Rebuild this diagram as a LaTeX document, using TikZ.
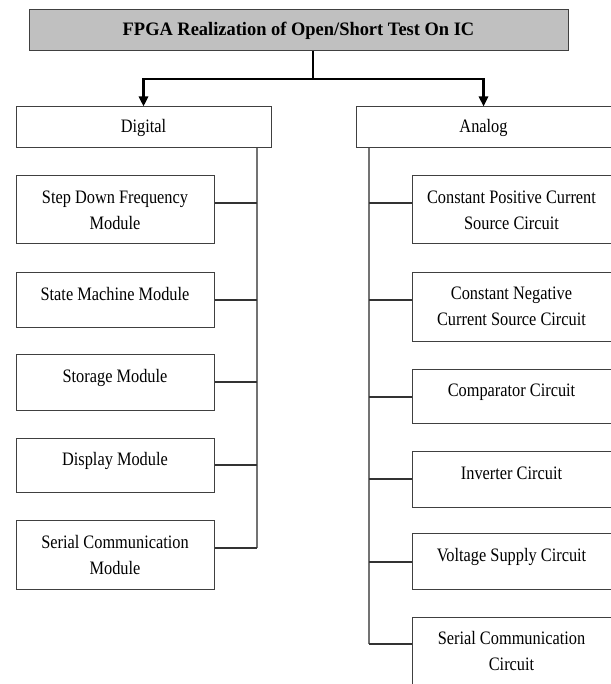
\documentclass[tikz,border=0pt]{standalone}
\usepackage{fontspec}
\setmainfont{Liberation Serif}
\newfontfamily\boxfont[FakeStretch=0.86]{Liberation Serif}
\newfontfamily\headfont[FakeStretch=0.97]{Liberation Serif}
\usetikzlibrary{arrows.meta}
\definecolor{headgray}{RGB}{192,192,192}
\tikzset{
  head/.style={draw=black!75, line width=1pt, fill=headgray, minimum width=539pt,
    minimum height=41pt, inner sep=0pt, font=\headfont\bfseries\fontsize{19}{26}\selectfont},
  branch/.style={draw=black!75, line width=1pt, fill=white, minimum width=255pt,
    minimum height=41pt, inner sep=0pt, font=\boxfont\fontsize{19}{26}\selectfont},
  module/.style={draw=black!75, line width=1pt, fill=white, inner sep=0pt, align=center,
    font=\boxfont\fontsize{19}{26}\selectfont},
  lmod/.style={module, minimum width=198pt},
  rmod/.style={module, minimum width=199pt},
  single/.style={text height=13pt, text depth=12pt},
  feed/.style={line width=2.5pt, -{Triangle[length=10pt,width=9pt]}},
  bus/.style={draw=black!55, line width=1.5pt},
  tap/.style={draw=black!80, line width=1.1pt}
}
\begin{document}
\begin{tikzpicture}[x=1pt,y=-1pt]
\useasboundingbox (0,0) rectangle (610,684);
\node[head] (fpga) at (298.5,30.5) {FPGA Realization of Open/Short Test On IC};
\node[branch] (digital) at (143.5,127.5) {Digital};
\node[branch] (analog) at (483.5,127.5) {Analog};
\coordinate (split) at (313,79);
\draw[line width=2.5pt] (fpga.south -| split) -- (split);
\draw[feed] (split) -| (digital);
\draw[feed] (split) -| (analog);

\node[lmod, minimum height=68pt] (step) at (115,210) {Step Down Frequency\\Module};
\node[lmod, single, minimum height=55pt] (state) at (115,299.5) {State Machine Module};
\node[lmod, single, minimum height=56pt] (storage) at (115,382) {Storage Module};
\node[lmod, single, minimum height=54pt] (display) at (115,465) {Display Module};
\node[lmod, minimum height=69pt] (serial) at (115,554.5) {Serial Communication\\Module};

\node[rmod, minimum height=68pt] (cpos) at (511.5,210) {Constant Positive Current\\Source Circuit};
\node[rmod, minimum height=69pt] (cneg) at (511.5,306.5) {Constant Negative\\Current Source Circuit};
\node[rmod, single, minimum height=54pt] (comp) at (511.5,396) {Comparator Circuit};
\node[rmod, single, minimum height=56pt] (inv) at (511.5,479) {Inverter Circuit};
\node[rmod, single, minimum height=56pt] (volt) at (511.5,561) {Voltage Supply Circuit};
\node[rmod, minimum height=68pt] (scc) at (511.5,651) {Serial Communication\\Circuit};

\foreach \m/\y in {step/203, state/300, storage/382, display/465, serial/548}
  \coordinate (\m-tap) at (257,\y);
\foreach \m/\y in {cpos/203, cneg/300, comp/397, inv/479, volt/562, scc/644}
  \coordinate (\m-tap) at (369,\y);

\draw[bus] (digital.south -| serial-tap) -- (serial-tap);
\draw[bus] (analog.south -| scc-tap) -- (scc-tap);
\foreach \m in {step, state, storage, display, serial}
  \draw[tap] (\m-tap) -- (\m-tap -| \m.east);
\foreach \m in {cpos, cneg, comp, inv, volt, scc}
  \draw[tap] (\m-tap) -- (\m-tap -| \m.west);
\end{tikzpicture}
\end{document}
